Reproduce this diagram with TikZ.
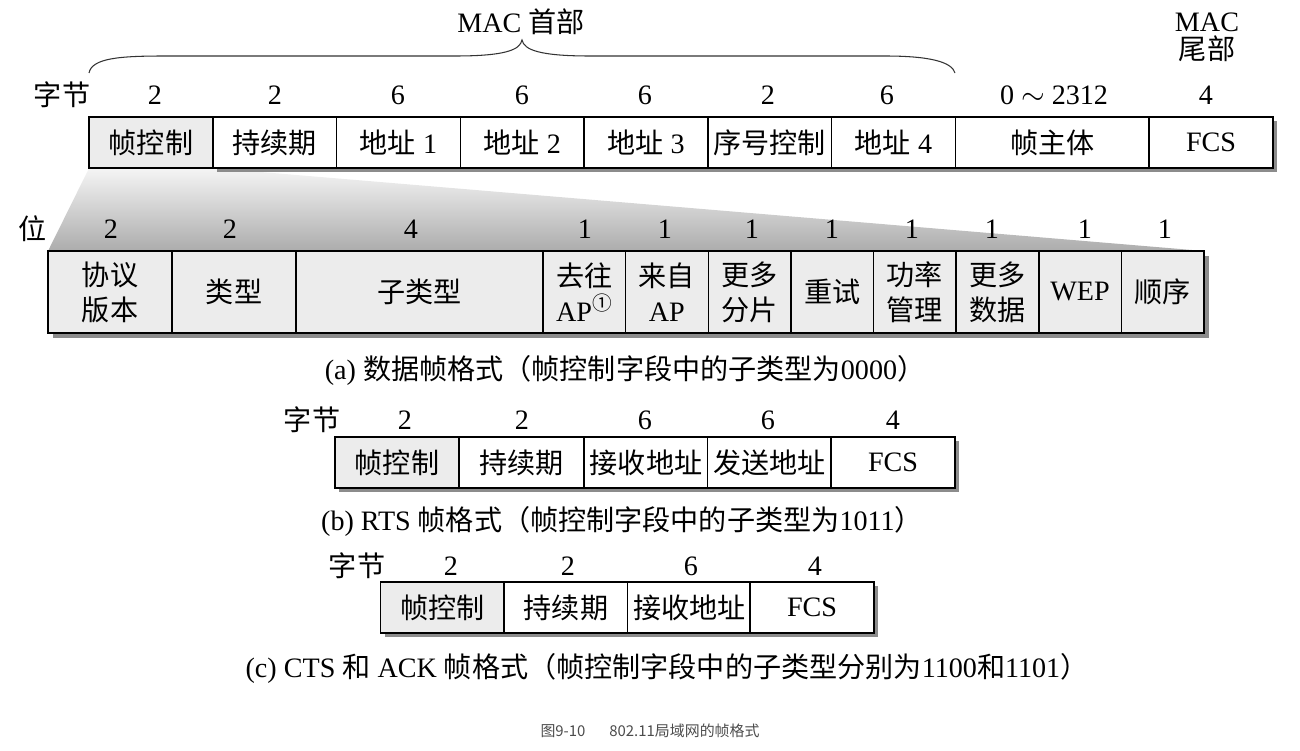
\documentclass[tikz,border=0pt]{standalone}
\usepackage{fontspec}
\setmainfont{Liberation Serif}
\newfontfamily\cjk{Noto Sans CJK SC}
\usetikzlibrary{backgrounds}

\begin{document}
\begin{tikzpicture}[x=0.02cm, y=-0.02cm,
      field/.style={draw, thick, fill=white, inner sep=0pt, outer sep=0pt, minimum width=2.475cm, minimum height=1.02cm, align=center, font=\fontsize{16}{20}\selectfont},
      grayfield/.style={field, fill=gray!15},
      bitfield/.style={field, fill=gray!15, minimum width=1.6525cm, minimum height=1.64cm},
      bytes/.style={inner sep=1pt, font=\fontsize{16}{20}\selectfont},
      figcap/.style={inner sep=1pt, font=\fontsize{16}{20}\selectfont},
      shadow/.style={fill=black!45},
      brace/.style={draw=black!80, line width=0.6pt}
    ]
      \useasboundingbox (0,0) rectangle (1300,750);

      % MAC frame
      \node[grayfield] (fc)    at (151,142.5)    {\cjk 帧控制};
      \node[field] (dur)       at (274.75,142.5) {\cjk 持续期};
      \node[field] (addr1)     at (398.5,142.5)  {{\cjk 地址} 1};
      \node[field] (addr2)     at (522.25,142.5) {{\cjk 地址} 2};
      \node[field] (addr3)     at (646,142.5)    {{\cjk 地址} 3};
      \node[field] (seq)       at (769.75,142.5) {\cjk 序号控制};
      \node[field] (addr4)     at (893.5,142.5)  {{\cjk 地址} 4};
      \node[field, minimum width=3.875cm] (body) at (1052.25,142.5) {\cjk 帧主体};
      \node[field, minimum width=2.48cm] (fcs)   at (1211,142.5)    {FCS};

      \node[bytes] (unit1) at (62,95) {\cjk 字节};
      \node[bytes] (n1) at (155,95)  {2};
      \node[bytes] (n2) at (275,95)  {2};
      \node[bytes] (n3) at (398,95)  {6};
      \node[bytes] (n4) at (522,95)  {6};
      \node[bytes] (n5) at (645,95)  {6};
      \node[bytes] (n6) at (768,95)  {2};
      \node[bytes] (n7) at (887,95)  {6};
      \node[bytes] (n8) at (1054,95) {0 $\sim$ 2312};
      \node[bytes] (n9) at (1206,95) {4};

      \node[bytes] (head) at (521,22) {MAC {\cjk 首部}};
      \node[bytes, align=center, font=\fontsize{16}{16}\selectfont] (tail) at (1207,37) {MAC\\{\cjk 尾部}};

      \draw[brace] (89,73) .. controls (92,58) and (120,56) .. (165,56) -- (455,56)
        .. controls (505,56) and (520,50) .. (522,40)
        .. controls (524,50) and (540,56) .. (590,56) -- (885,56)
        .. controls (930,56) and (952,62) .. (955,73);

      % frame control bits
      \node[bitfield, minimum width=2.48cm] (proto) at (110,292) {{\cjk 协议}\\{\cjk 版本}};
      \node[bitfield, minimum width=2.48cm] (type)  at (234,292) {\cjk 类型};
      \node[bitfield, minimum width=4.94cm] (subtype) at (419.5,292) {\cjk 子类型};
      \node[bitfield] (toap)    at (584.3,292)  {{\cjk 去往}\\AP\textsuperscript{\cjk ①}};
      \node[bitfield] (fromap)  at (666.9,292)  {{\cjk 来自}\\AP};
      \node[bitfield] (morefrag) at (749.6,292) {{\cjk 更多}\\{\cjk 分片}};
      \node[bitfield] (retry)   at (832.2,292)  {\cjk 重试};
      \node[bitfield] (power)   at (914.8,292)  {{\cjk 功率}\\{\cjk 管理}};
      \node[bitfield] (moredata) at (997.4,292) {{\cjk 更多}\\{\cjk 数据}};
      \node[bitfield] (wep)     at (1080.1,292) {WEP};
      \node[bitfield] (order)   at (1162.7,292) {\cjk 顺序};

      \node[bytes] (unit2) at (33,229) {\cjk 位};
      \node[bytes] (b1)  at (111,229)  {2};
      \node[bytes] (b2)  at (230,229)  {2};
      \node[bytes] (b3)  at (411,229)  {4};
      \node[bytes] (b4)  at (585,229)  {1};
      \node[bytes] (b5)  at (665,229)  {1};
      \node[bytes] (b6)  at (752,229)  {1};
      \node[bytes] (b7)  at (832,229)  {1};
      \node[bytes] (b8)  at (912,229)  {1};
      \node[bytes] (b9)  at (992,229)  {1};
      \node[bytes] (b10) at (1085,229) {1};
      \node[bytes] (b11) at (1165,229) {1};

      \node[figcap] (capa) at (625,370) {(a) {\cjk 数据帧格式（帧控制字段中的子类型为}0000{\cjk ）}};

      % RTS
      \node[grayfield] (rtsfc)  at (397,462.5)   {\cjk 帧控制};
      \node[field] (rtsdur)     at (521.5,462.5) {\cjk 持续期};
      \node[field] (rtsra)      at (646,462.5)   {\cjk 接收地址};
      \node[field] (rtsta)      at (769.5,462.5) {\cjk 发送地址};
      \node[field] (rtsfcs)     at (893,462.5)   {FCS};

      \node[bytes] (unit3) at (312,420) {\cjk 字节};
      \node[bytes] (r1) at (405,420) {2};
      \node[bytes] (r2) at (522,420) {2};
      \node[bytes] (r3) at (645,420) {6};
      \node[bytes] (r4) at (768,420) {6};
      \node[bytes] (r5) at (893,420) {4};

      \node[figcap] (capb) at (622,521) {(b) RTS {\cjk 帧格式（帧控制字段中的子类型为}1011{\cjk ）}};

      % CTS / ACK
      \node[grayfield] (ctsfc) at (442.5,607.5) {\cjk 帧控制};
      \node[field] (ctsdur)    at (566,607.5)   {\cjk 持续期};
      \node[field] (ctsra)     at (689.5,607.5) {\cjk 接收地址};
      \node[field] (ctsfcs)    at (812,607.5)   {FCS};

      \node[bytes] (unit4) at (357,566) {\cjk 字节};
      \node[bytes] (c1) at (451,566) {2};
      \node[bytes] (c2) at (568,566) {2};
      \node[bytes] (c3) at (691,566) {6};
      \node[bytes] (c4) at (815,566) {4};

      \node[figcap] (capc) at (667,668) {(c) CTS {\cjk 和} ACK {\cjk 帧格式（帧控制字段中的子类型分别为}1100{\cjk 和}1101{\cjk ）}};

      \node[inner sep=1pt, text=black!70, font=\cjk\fontsize{8.5}{10}\selectfont] (fig) at (650,731) {图9-10\hspace{1.6em}802.11局域网的帧格式};

      \begin{scope}[on background layer]
        \shade[top color=gray!8, bottom color=gray!65] (fc.south west) -- (proto.north west) -- (order.north east) -- (fc.south east) -- cycle;
        \fill[shadow] ([shift={(4,4)}]dur.north west) rectangle ([shift={(4,4)}]fcs.south east);
        \fill[shadow] ([shift={(5,5)}]proto.north west) rectangle ([shift={(5,5)}]order.south east);
        \fill[shadow] ([shift={(4,4)}]rtsfc.north west) rectangle ([shift={(4,4)}]rtsfcs.south east);
        \fill[shadow] ([shift={(4,4)}]ctsfc.north west) rectangle ([shift={(4,4)}]ctsfcs.south east);
      \end{scope}
    \end{tikzpicture}
\end{document}
